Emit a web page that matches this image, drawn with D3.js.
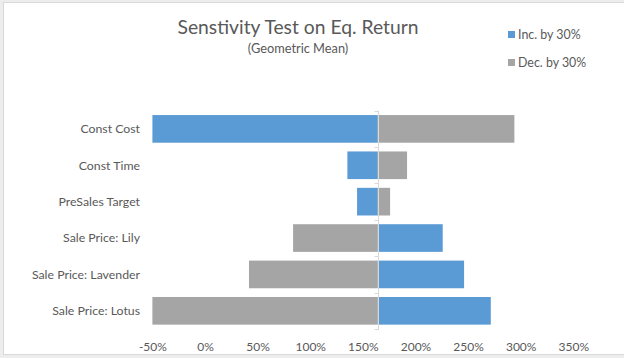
<!DOCTYPE html>
<html>
<head>
<meta charset="utf-8">
<script src="https://cdn.jsdelivr.net/npm/d3@7"></script>
<style>
  html, body { margin: 0; padding: 0; background: #ededed; }
  svg { display: block; }
  text { font-family: Lato, "Open Sans", "Liberation Sans", sans-serif; fill: #595959; }
</style>
</head>
<body>
<svg id="chart" width="624" height="358"></svg>
<script>
// Sensitivity of the equity return (geometric mean) to +/-30% changes in each driver
const categories = ["Const Cost", "Const Time", "PreSales Target", "Sale Price: Lily", "Sale Price: Lavender", "Sale Price: Lotus"];
const baseReturn = 1.642;                                  // base-case return, where the bars start
const incValues = [-0.50, 1.353, 1.445, 2.259, 2.462, 2.716]; // return when the driver rises 30%
const decValues = [2.940, 1.920, 1.759, 0.837, 0.418, -0.50]; // return when the driver falls 30%
const tickValues = [-0.5, 0, 0.5, 1, 1.5, 2, 2.5, 3, 3.5];
const seriesNames = ["Inc. by 30%", "Dec. by 30%"];
const colors = ["#5B9BD5", "#A5A5A5"];

const svg = d3.select("#chart");
const W = 624, H = 358;

// chart frame
svg.append("rect").attr("x", 3.5).attr("y", 2.5).attr("width", W + 10).attr("height", 352)
  .attr("fill", "#fff").attr("stroke", "#d9d9d9").attr("stroke-width", 1);

const plot = { left: 152.4, right: 573.3, top: 110.7, bottom: 329 };

const x = d3.scaleLinear().domain([-0.5, 3.5]).range([plot.left, plot.right]);
const y = d3.scaleBand().domain(categories).range([plot.top, plot.bottom]).paddingInner(0.24).paddingOuter(0.12);

// titles
svg.append("text").attr("x", 298).attr("y", 34).attr("text-anchor", "middle")
  .style("font-size", "19.3px").text("Senstivity Test on Eq. Return");
svg.append("text").attr("x", 298).attr("y", 53).attr("text-anchor", "middle")
  .style("font-size", "12.8px").text("(Geometric Mean)");

// legend
const legend = svg.append("g");
seriesNames.forEach((name, i) => {
  const g = legend.append("g").attr("transform", `translate(508,${31 + i * 28})`);
  g.append("rect").attr("width", 7).attr("height", 7).attr("fill", colors[i]);
  g.append("text").attr("x", 10).attr("y", 7.5).style("font-size", "12.4px").text(name);
});

// bars: each series runs from the base return to its scenario value
const rows = categories.map((c, i) => ({ cat: c, inc: incValues[i], dec: decValues[i] }));
const series = [
  { key: "inc", color: colors[0] },
  { key: "dec", color: colors[1] }
];
series.forEach(s => {
  svg.append("g").selectAll("rect").data(rows).join("rect")
    .attr("x", d => x(Math.min(baseReturn, Math.max(-0.5, d[s.key]))))
    .attr("y", d => y(d.cat))
    .attr("width", d => Math.abs(x(Math.max(-0.5, d[s.key])) - x(baseReturn)))
    .attr("height", y.bandwidth())
    .attr("fill", s.color);
});

// vertical category axis at the base return, ticks on band boundaries
const axisX = Math.round(x(baseReturn)) + 0.5;
const axisG = svg.append("g").attr("stroke", "#d9d9d9").attr("stroke-width", 1);
axisG.append("line").attr("x1", axisX).attr("x2", axisX).attr("y1", plot.top).attr("y2", plot.bottom + 1);
d3.range(categories.length + 1).forEach(i => {
  const yy = Math.round(plot.top + i * y.step()) + 0.5;
  axisG.append("line").attr("x1", axisX - 4).attr("x2", axisX).attr("y1", yy).attr("y2", yy);
});

// category labels
svg.append("g").selectAll("text").data(categories).join("text")
  .attr("x", 140).attr("y", d => y(d) + y.bandwidth() / 2 + 4.3)
  .attr("text-anchor", "end").style("font-size", "12.3px").text(d => d);

// value axis labels (plain hyphen for negatives)
const fmt = v => d3.format(".0%")(v).replace("\u2212", "-");
const xAxis = svg.append("g").attr("transform", `translate(0,${plot.bottom})`)
  .call(d3.axisBottom(x).tickValues(tickValues).tickFormat(fmt).tickSize(0).tickPadding(13));
xAxis.select(".domain").remove();
xAxis.selectAll("text").style("font-size", "12px").style("fill", "#595959")
  .style("font-family", "Lato, 'Open Sans', 'Liberation Sans', sans-serif");
</script>
</body>
</html>
